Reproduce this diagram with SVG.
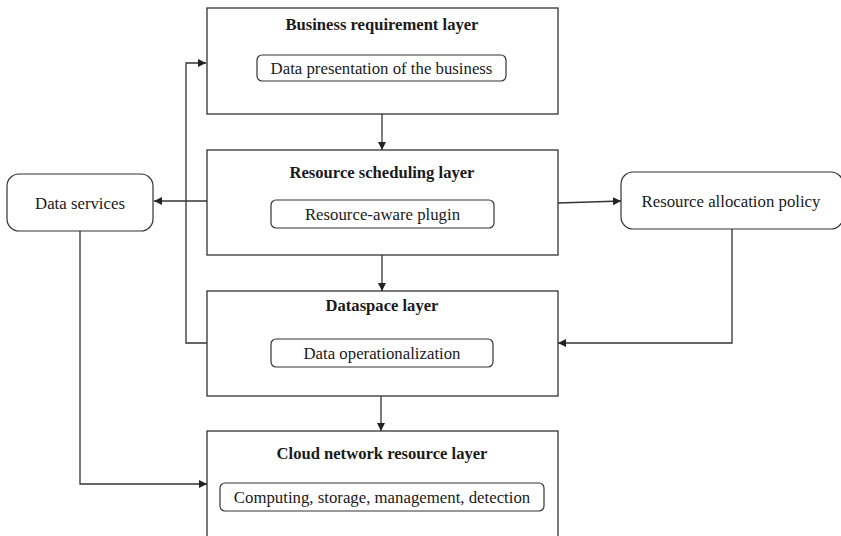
<svg xmlns="http://www.w3.org/2000/svg" width="841" height="536" viewBox="0 0 841 536">
  <style>
    .layer { fill: #ffffff; stroke: #333333; stroke-width: 1.3; }
    .pill { fill: #ffffff; stroke: #333333; stroke-width: 1.2; }
    .title { font-family: "Liberation Serif", "Times New Roman", serif; font-weight: bold; font-size: 16.6px; fill: #1a1a1a; text-anchor: middle; }
    .label { font-family: "Liberation Serif", "Times New Roman", serif; font-size: 16.8px; fill: #1a1a1a; text-anchor: middle; }
    .conn { fill: none; stroke: #333333; stroke-width: 1.3; }
  </style>
  <defs>
    <marker id="arrow" viewBox="0 0 10 10" refX="10" refY="5" markerWidth="8" markerHeight="8" markerUnits="userSpaceOnUse" orient="auto">
      <path d="M0,0 L10,5 L0,10 z" fill="#222222"/>
    </marker>
  </defs>
  <rect width="841" height="536" fill="#ffffff"/>

  <!-- connectors -->
  <g id="connectors">
    <line class="conn" x1="382" y1="114" x2="382" y2="150" marker-end="url(#arrow)"/>
    <line class="conn" x1="382" y1="255" x2="382" y2="291" marker-end="url(#arrow)"/>
    <line class="conn" x1="381" y1="396" x2="381" y2="431" marker-end="url(#arrow)"/>
    <line class="conn" x1="207" y1="201" x2="154" y2="201" marker-end="url(#arrow)"/>
    <line class="conn" x1="558" y1="203" x2="621" y2="201" marker-end="url(#arrow)"/>
    <polyline class="conn" points="207,343 186,343 186,63 206,63" marker-end="url(#arrow)"/>
    <polyline class="conn" points="732,229 732,343 558,343" marker-end="url(#arrow)"/>
    <polyline class="conn" points="80,231 80,484 207,484" marker-end="url(#arrow)"/>
  </g>

  <g id="business-requirement-layer">
    <rect class="layer" x="207" y="8" width="351" height="106"/>
    <text class="title" x="382" y="30">Business requirement layer</text>
    <rect class="pill" x="257" y="55" width="249" height="26" rx="5"/>
    <text class="label" x="381.5" y="74">Data presentation of the business</text>
  </g>

  <g id="resource-scheduling-layer">
    <rect class="layer" x="207" y="150" width="351" height="105"/>
    <text class="title" x="382" y="178">Resource scheduling layer</text>
    <rect class="pill" x="271" y="200" width="223" height="28" rx="5"/>
    <text class="label" x="382.5" y="220">Resource-aware plugin</text>
  </g>

  <g id="dataspace-layer">
    <rect class="layer" x="207" y="291" width="351" height="105"/>
    <text class="title" x="382" y="311">Dataspace layer</text>
    <rect class="pill" x="271" y="339" width="222" height="28" rx="5"/>
    <text class="label" x="382" y="359">Data operationalization</text>
  </g>

  <g id="cloud-network-resource-layer">
    <rect class="layer" x="207" y="431" width="351" height="120"/>
    <text class="title" x="382" y="459">Cloud network resource layer</text>
    <rect class="pill" x="220" y="483" width="324" height="28" rx="5"/>
    <text class="label" x="382" y="503">Computing, storage, management, detection</text>
  </g>

  <g id="data-services">
    <rect class="pill" x="7" y="174" width="146" height="57" rx="12"/>
    <text class="label" x="80" y="209">Data services</text>
  </g>

  <g id="resource-allocation-policy">
    <rect class="pill" x="621" y="172" width="222" height="57" rx="12"/>
    <text class="label" x="731" y="207">Resource allocation policy</text>
  </g>
</svg>
